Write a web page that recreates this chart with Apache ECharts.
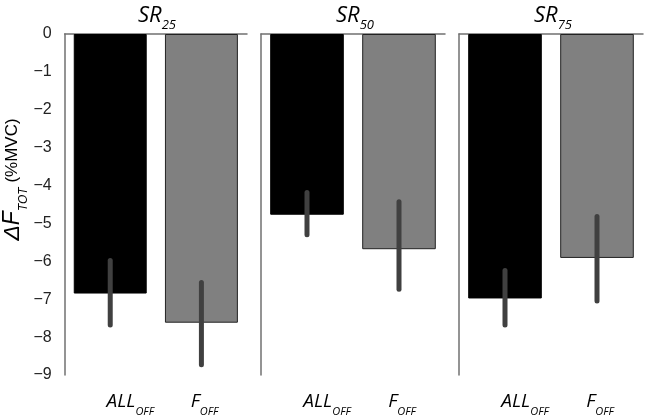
<!DOCTYPE html>
<html>
<head>
<meta charset="utf-8">
<script src="https://cdn.jsdelivr.net/npm/echarts@6/dist/echarts.min.js"></script>
<style>html,body{margin:0;padding:0;background:#fff}#c{width:645px;height:417px}</style>
</head>
<body>
<div id="c"></div>
<script>
// ---- data ----
var categories = ['ALL_OFF', 'F_OFF'];
var panelNames = ['25', '50', '75'];
var allOffMean = [-6.85, -4.77, -6.98];
var fOffMean = [-7.62, -5.68, -5.91];
var allOffErrTop = [-5.98, -4.18, -6.24];
var allOffErrBottom = [-7.68, -5.30, -7.68];
var fOffErrTop = [-6.56, -4.43, -4.82];
var fOffErrBottom = [-8.73, -6.74, -7.05];
var yTicks = [0, -1, -2, -3, -4, -5, -6, -7, -8, -9];

var chart = echarts.init(document.getElementById('c'), null, {renderer: 'canvas'});

var gridLefts = [63, 261, 459];
var gridWidth = 184;
var grids = [], xAxes = [], yAxes = [], series = [], titles = [];
var axisColor = '#707070';

for (var p = 0; p < 3; p++) {
  grids.push({left: gridLefts[p], width: gridWidth, top: 34, bottom: 40, containLabel: false});
  titles.push({
    text: '{m|SR}{s|' + panelNames[p] + '}',
    left: gridLefts[p] + gridWidth / 2 - 3,
    top: -5,
    textAlign: 'center',
    textStyle: {
      fontWeight: 'normal',
      rich: {
        m: {fontFamily: 'Open Sans', fontStyle: 'italic', fontWeight: 'normal', fontSize: 22, color: '#000', lineHeight: 32, verticalAlign: 'middle'},
        s: {fontFamily: 'Open Sans', fontStyle: 'italic', fontWeight: 'normal', fontSize: 13, color: '#000', lineHeight: 32, verticalAlign: 'bottom'}
      }
    }
  });
  xAxes.push({
    type: 'category', gridIndex: p, data: categories,
    axisLine: {lineStyle: {color: axisColor, width: 1.5}},
    axisTick: {show: false},
    axisLabel: {
      interval: 0,
      hideOverlap: false,
      margin: 12,
      formatter: function (v) {
        var parts = v.split('_');
        return parts[0] === 'ALL' ? '{pa|}{m|' + parts[0] + '}{s|' + parts[1] + '}' : '{pf|}{m|' + parts[0] + '}{s|' + parts[1] + '}';
      },
      rich: {
        pa: {width: 40},
        pf: {width: 6},
        m: {fontFamily: 'Open Sans', fontStyle: 'italic', fontSize: 19, color: '#000', lineHeight: 30, verticalAlign: 'middle'},
        s: {fontFamily: 'Open Sans', fontStyle: 'italic', fontSize: 11, color: '#000', lineHeight: 30, verticalAlign: 'bottom'}
      }
    }
  });
  var ya = {
    type: 'value', gridIndex: p, min: -9, max: 0, interval: 1,
    axisLine: {show: true, lineStyle: {color: axisColor, width: 1.5}},
    axisTick: {show: false},
    splitLine: {show: false},
    axisLabel: {show: p === 0, margin: 13, color: '#222', fontFamily: 'Liberation Sans', fontSize: 16,
      formatter: function (v) { return v === 0 ? '0' : '\u2212' + Math.abs(v); }}
  };
  if (p === 0) {
    ya.name = '{d|\u0394F}{s|TOT}{u| (%MVC)}';
    ya.nameLocation = 'middle';
    ya.nameRotate = 90;
    ya.nameGap = 32;
    ya.nameTextStyle = {
      padding: [0, 0, 0, 50],
      rich: {
        d: {fontFamily: 'Liberation Sans', fontStyle: 'italic', fontSize: 23, color: '#000', lineHeight: 34, verticalAlign: 'middle'},
        s: {fontFamily: 'Liberation Sans', fontStyle: 'italic', fontSize: 12, color: '#000', lineHeight: 34, verticalAlign: 'bottom'},
        u: {fontFamily: 'Liberation Sans', fontSize: 17, color: '#000', lineHeight: 34, verticalAlign: 'middle'}
      }
    };
  }
  yAxes.push(ya);

  series.push({
    type: 'bar', xAxisIndex: p, yAxisIndex: p, barCategoryGap: '20%',
    data: [
      {value: allOffMean[p], itemStyle: {color: '#000', borderColor: '#000', borderWidth: 1}},
      {value: fOffMean[p], itemStyle: {color: '#808080', borderColor: '#222', borderWidth: 1}}
    ],
    silent: true
  });
  series.push({
    type: 'custom', xAxisIndex: p, yAxisIndex: p, silent: true, z: 10,
    data: [[0, allOffErrTop[p], allOffErrBottom[p]], [1, fOffErrTop[p], fOffErrBottom[p]]],
    renderItem: function (params, api) {
      var a = api.coord([api.value(0), api.value(1)]);
      var b = api.coord([api.value(0), api.value(2)]);
      return {
        type: 'line',
        shape: {x1: a[0], y1: a[1], x2: b[0], y2: b[1]},
        style: {stroke: '#404040', lineWidth: 5, lineCap: 'round'}
      };
    }
  });
}

chart.setOption({
  animation: false,
  backgroundColor: '#fff',
  title: titles,
  grid: grids,
  xAxis: xAxes,
  yAxis: yAxes,
  series: series
});
</script>
</body>
</html>
